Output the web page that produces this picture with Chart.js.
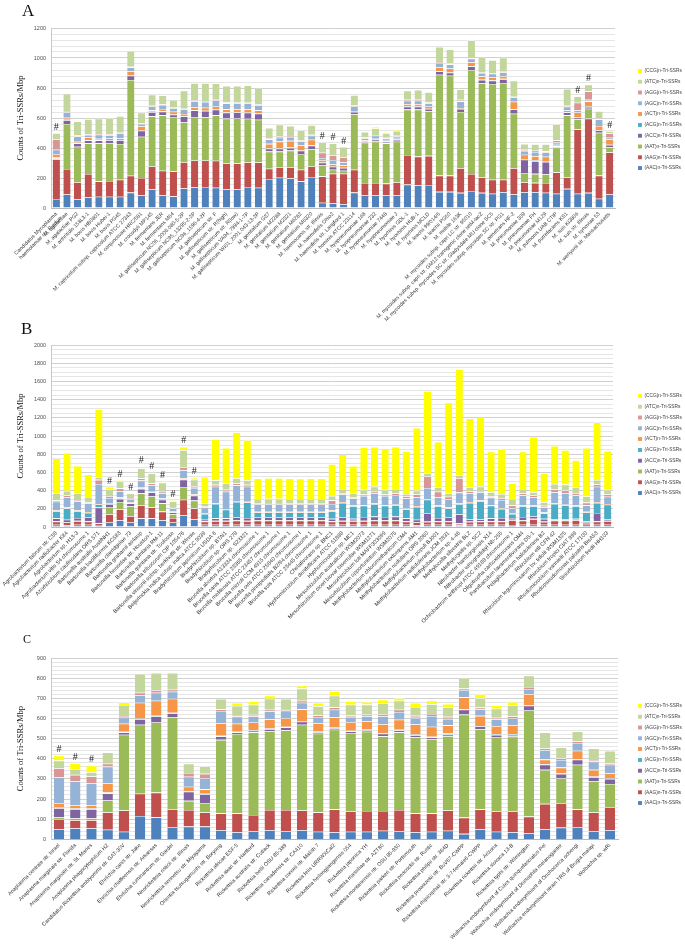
<!DOCTYPE html>
<html lang="en">
<head>
<meta charset="UTF-8" />
<title>Counts of Tri-SSRs/Mbp</title>
<script src="https://cdn.jsdelivr.net/npm/chart.js@4"></script>
<style>
  body { margin: 0; background: #fff; width: 685px; height: 948px; position: relative; overflow: hidden; }
  canvas { position: absolute; left: 0; }
  .tag { position: absolute; font-family: 'Liberation Serif', serif; color: #111; line-height: 1; z-index: 5; }
</style>
</head>
<body>
<canvas id="chartA" width="685" height="335" style="top:0px"></canvas>
<canvas id="chartB" width="685" height="312" style="top:318px"></canvas>
<canvas id="chartC" width="685" height="318" style="top:630px"></canvas>
<div class="tag" style="left:22px;top:2px;font-size:17px">A</div>
<div class="tag" style="left:21px;top:320px;font-size:17px">B</div>
<div class="tag" style="left:23px;top:633px;font-size:12px">C</div>

<script>
// motif order = stacking order, bottom to top
const motifs = ['AAC', 'AAG', 'AAT', 'ACC', 'ACG', 'ACT', 'AGC', 'AGG', 'ATC', 'CCG']
const motifColors = ['#4F81BD', '#C0504D', '#9BBB59', '#8064A2', '#4BACC6', '#F79646', '#95B3D7', '#D99694', '#C3D69B', '#FFFF00']

// ---------- panel A : Mycoplasma ----------
const catA = [
  ['Candidatus Mycoplasma', 'haemolamae str. Purdue'], 'M. agalactiae', 'M. agalactiae PG2', 'M. arthritidis 158L3-1',
  'M. bovis HB0801', 'M. bovis Hubei-1', 'M. bovis PG45', 'M. capricolum subsp. capricolum ATCC 27343',
  'M. conjunctivae HRC/581', 'M. crocodyli MP145', 'M. fermentans JER', 'M. fermentans M64',
  'M. gallisepticum NC06_2006.080-5-2P', 'M. gallisepticum NC95_13295-2-2P', 'M. gallisepticum NC96_1596-4-2P',
  'M. gallisepticum str. F', 'M. gallisepticum str. R(high)', 'M. gallisepticum str. R(low)',
  'M. gallisepticum VA94_7994-1-7P', 'M. gallisepticum WI01_2001.043-13-2P',
  'M. genitalium G37', 'M. genitalium M2288', 'M. genitalium M2321', 'M. genitalium M6282', 'M. genitalium M6320',
  'M. haemocanis str. Illinois', 'M. haemofelis Ohio2', 'M. haemofelis str. Langford 1', 'M. hominis ATCC 23114',
  'M. hyopneumoniae 168', 'M. hyopneumoniae 232', 'M. hyopneumoniae 7448', 'M. hyopneumoniae J',
  'M. hyorhinis GDL-1', 'M. hyorhinis HUB-1', 'M. hyorhinis MCLD', 'M. leachii 99/014/6', 'M. leachii PG50',
  'M. mobile 163K', 'M. mycoides subsp. capri LC str. 95010',
  'M. mycoides subsp. capri str. GM12 transgenic clone tetM-lacZ',
  'M. mycoides subsp. mycoides SC str. Gladysdale MU clone SC5', 'M. mycoides subsp. mycoides SC str. PG1',
  'M. penetrans HF-2', 'M. pneumoniae 309', 'M. pneumoniae FH', 'M. pneumoniae M129', 'M. pulmonis UAB CTIP',
  'M. putrefaciens KS1', 'M. suis KI3806', 'M. suis str. Illinois', 'M. synoviae 53', 'M. wenyonii str. Massachusetts'
]
const A_AAC = [60, 90, 59, 70, 75, 75, 75, 103, 85, 125, 85, 78, 130, 137, 140, 135, 125, 125, 140, 135, 194, 202, 198, 178, 207, 35, 30, 26, 103, 86, 86, 86, 86, 156, 150, 154, 108, 108, 101, 114, 101, 95, 106, 90, 106, 106, 102, 95, 128, 95, 101, 62, 90]
const A_AAG = [265, 170, 113, 157, 103, 105, 114, 112, 115, 152, 164, 166, 176, 180, 177, 180, 174, 172, 165, 169, 68, 71, 75, 77, 70, 176, 199, 203, 152, 81, 81, 77, 86, 198, 193, 194, 108, 108, 165, 113, 104, 94, 83, 176, 66, 62, 65, 143, 77, 429, 495, 154, 280]
const A_AAT = [5, 300, 237, 204, 253, 250, 238, 639, 275, 334, 369, 363, 264, 290, 288, 303, 297, 300, 290, 285, 114, 103, 110, 105, 115, 73, 26, 20, 370, 269, 276, 268, 270, 302, 313, 297, 673, 666, 374, 693, 627, 638, 645, 363, 62, 60, 58, 165, 413, 68, 66, 286, 35]
const A_ACC = [5, 26, 22, 20, 20, 22, 25, 28, 40, 28, 25, 15, 40, 44, 42, 37, 40, 40, 40, 40, 20, 20, 18, 22, 24, 18, 20, 18, 15, 10, 12, 10, 12, 20, 20, 15, 22, 20, 20, 24, 22, 22, 25, 28, 88, 85, 82, 8, 20, 10, 12, 15, 15]
const A_ACG = [2, 3, 2, 2, 2, 2, 2, 2, 2, 2, 2, 2, 2, 2, 2, 2, 2, 2, 2, 2, 2, 2, 2, 2, 2, 2, 2, 2, 2, 2, 2, 2, 2, 2, 2, 2, 2, 2, 2, 2, 2, 2, 2, 2, 5, 5, 5, 2, 2, 2, 2, 2, 2]
const A_ACT = [22, 12, 8, 20, 8, 10, 10, 28, 28, 10, 15, 18, 15, 20, 20, 20, 20, 20, 20, 20, 30, 45, 45, 35, 37, 15, 15, 15, 5, 5, 5, 5, 5, 15, 15, 15, 26, 26, 5, 26, 22, 22, 18, 50, 28, 28, 30, 8, 10, 33, 35, 28, 37]
const A_AGC = [30, 38, 37, 15, 28, 22, 33, 26, 15, 26, 28, 24, 30, 40, 38, 40, 40, 40, 40, 35, 30, 26, 26, 26, 28, 15, 28, 20, 30, 12, 20, 15, 15, 22, 22, 20, 28, 28, 44, 24, 22, 22, 25, 28, 26, 28, 28, 15, 26, 15, 10, 44, 10]
const A_AGG = [70, 8, 5, 5, 5, 5, 5, 4, 5, 4, 4, 4, 5, 5, 5, 5, 5, 5, 5, 5, 8, 8, 6, 6, 6, 35, 33, 35, 8, 5, 5, 5, 5, 6, 6, 6, 6, 5, 10, 5, 5, 5, 5, 5, 8, 8, 8, 15, 5, 50, 57, 8, 28]
const A_ATC = [40, 115, 95, 100, 102, 106, 111, 105, 70, 75, 58, 51, 121, 114, 120, 109, 111, 110, 116, 109, 68, 79, 68, 68, 63, 68, 78, 68, 68, 38, 43, 31, 33, 62, 67, 69, 101, 95, 69, 117, 103, 86, 94, 107, 38, 43, 47, 108, 113, 42, 45, 46, 16]
const A_CCG = [0, 0, 0, 3, 0, 3, 0, 0, 0, 0, 0, 0, 0, 0, 0, 0, 0, 0, 0, 0, 0, 0, 0, 0, 0, 0, 0, 0, 0, 0, 10, 5, 5, 0, 0, 0, 0, 0, 0, 0, 0, 0, 0, 0, 0, 0, 0, 0, 0, 0, 0, 0, 0]
const hashA = [0, 25, 26, 27, 49, 50, 52]

// ---------- panel B : Rhizobiales ----------
const catB = [
  'Agrobacterium fabrum str. C58', 'Agrobacterium radiobacter K84', 'Agrobacterium sp. H13-3',
  'Agrobacterium vitis S4 chromosome 1', 'Azorhizobium caulinodans ORS 571', 'Bartonella australis Aust/NH1',
  'Bartonella bacilliformis KC583', 'Bartonella clarridgeiae 73', 'Bartonella grahamii as4aup',
  'Bartonella henselae str. Houston-1', 'Bartonella quintana RM-11', 'Bartonella quintana str. Toulouse',
  'Bartonella tribocorum CIP 105476', 'Bartonella vinsonii subsp. berkhoffii str. Winnie',
  'Beijerinckia indica subsp. indica ATCC 9039', 'Bradyrhizobium japonicum USDA 6', 'Bradyrhizobium sp. BTAi1',
  'Bradyrhizobium sp. ORS 278', 'Bradyrhizobium sp. S23321', 'Brucella abortus A13334 chromosome 1',
  'Brucella canis ATCC 23365 chromosome 1', 'Brucella melitensis ATCC 23457 chromosome I',
  'Brucella microti CCM 4915 chromosome 1', 'Brucella ovis ATCC 25840 chromosome I',
  'Brucella pinnipedialis B2/94 chromosome 1', 'Brucella suis ATCC 23445 chromosome 1', 'Chelativorans sp. BNC1',
  'Hyphomicrobium denitrificans ATCC 51888', 'Hyphomicrobium sp. MC1', 'Mesorhizobium australicum WSM2073',
  'Mesorhizobium ciceri biovar biserrulae WSM1271', 'Mesorhizobium loti MAFF303099',
  'Mesorhizobium opportunistum WSM2075', 'Methylobacterium chloromethanicum CM4', 'Methylobacterium extorquens AM1',
  'Methylobacterium nodulans ORS 2060', 'Methylobacterium populi BJ001', 'Methylobacterium radiotolerans JCM 2831',
  'Methylobacterium sp. 4-46', 'Methylocella silvestris BL2', 'Methylocystis sp. SC2', 'Nitrobacter hamburgensis X14',
  'Nitrobacter winogradskyi Nb-255', 'Ochrobactrum anthropi ATCC 49188 chromosome 1',
  'Oligotropha carboxidovorans OM4', 'Parvibaculum lavamentivorans DS-1', 'Pelagibacterium halotolerans B2',
  'Rhizobium etli CFN 42', 'Rhizobium leguminosarum bv. trifolii WSM1325', 'Rhizobium tropici CIAT 899',
  'Rhodomicrobium vannielii ATCC 17100', 'Rhodopseudomonas palustris BisA53', 'Sinorhizobium fredii HH103'
]
const B_AAC = [25, 20, 25, 25, 15, 50, 75, 50, 95, 95, 75, 50, 130, 85, 25, 25, 25, 25, 25, 25, 25, 25, 25, 25, 25, 25, 25, 25, 25, 25, 25, 25, 25, 25, 20, 25, 25, 25, 20, 25, 25, 25, 25, 15, 25, 25, 25, 25, 25, 25, 25, 25, 25]
const B_AAG = [35, 30, 40, 35, 25, 90, 120, 70, 145, 120, 95, 50, 170, 120, 35, 40, 40, 45, 40, 45, 45, 45, 45, 45, 45, 45, 35, 40, 40, 40, 45, 45, 45, 35, 30, 30, 35, 35, 15, 30, 35, 35, 35, 60, 45, 60, 30, 45, 45, 50, 20, 35, 40]
const B_AAT = [5, 5, 5, 5, 3, 80, 80, 110, 130, 120, 90, 40, 140, 85, 5, 5, 5, 5, 5, 5, 5, 5, 5, 5, 5, 5, 5, 5, 5, 5, 5, 5, 5, 5, 5, 5, 5, 5, 5, 5, 5, 5, 5, 5, 5, 5, 5, 5, 5, 5, 5, 5, 5]
const B_ACC = [30, 25, 30, 40, 170, 30, 35, 30, 50, 45, 40, 20, 80, 55, 15, 25, 25, 30, 30, 30, 30, 30, 30, 30, 30, 30, 25, 35, 20, 40, 40, 35, 40, 30, 25, 91, 35, 40, 100, 25, 20, 30, 35, 20, 35, 30, 30, 10, 10, 10, 10, 90, 15]
const B_ACG = [80, 125, 75, 50, 35, 5, 5, 5, 5, 5, 5, 5, 5, 5, 65, 160, 95, 170, 170, 55, 55, 55, 55, 55, 55, 55, 85, 160, 140, 125, 135, 125, 125, 100, 140, 150, 130, 100, 110, 180, 200, 140, 100, 45, 120, 110, 60, 170, 155, 140, 100, 110, 160]
const B_ACT = [8, 8, 8, 8, 5, 10, 10, 5, 10, 10, 8, 5, 10, 10, 8, 8, 8, 8, 8, 8, 8, 8, 8, 8, 8, 8, 8, 8, 8, 8, 8, 8, 8, 8, 8, 8, 8, 8, 8, 8, 8, 8, 8, 8, 8, 8, 8, 8, 8, 8, 8, 8, 8]
const B_AGC = [95, 115, 100, 95, 220, 55, 70, 35, 75, 65, 55, 35, 90, 70, 60, 180, 190, 175, 165, 80, 82, 82, 80, 80, 80, 80, 70, 85, 75, 100, 115, 100, 105, 110, 100, 120, 90, 90, 120, 100, 90, 80, 90, 55, 110, 90, 60, 120, 125, 110, 70, 170, 80]
const B_AGG = [15, 20, 15, 12, 45, 20, 30, 15, 25, 20, 20, 15, 30, 20, 15, 20, 20, 20, 20, 15, 15, 15, 15, 15, 15, 15, 40, 15, 15, 15, 15, 15, 15, 25, 30, 127, 60, 30, 160, 20, 15, 15, 20, 30, 20, 20, 15, 30, 30, 25, 30, 25, 25]
const B_ATC = [75, 50, 72, 60, 30, 70, 80, 50, 110, 110, 100, 60, 190, 70, 34, 50, 70, 55, 51, 45, 45, 45, 45, 45, 45, 45, 50, 45, 43, 50, 56, 50, 50, 26, 42, 36, 49, 38, 30, 44, 46, 44, 46, 71, 50, 34, 40, 60, 63, 64, 67, 49, 50]
const B_CCG = [385, 417, 302, 247, 745, 30, 9, 5, 20, 9, 8, 14, 36, 20, 289, 449, 392, 507, 441, 225, 228, 228, 227, 222, 227, 227, 347, 379, 301, 466, 437, 455, 463, 470, 690, 902, 499, 995, 1165, 756, 760, 445, 488, 169, 409, 609, 315, 419, 379, 297, 535, 633, 429]
const hashB = [5, 6, 7, 8, 9, 10, 11, 12, 13]

// ---------- panel C : Rickettsiales ----------
const catC = [
  'Anaplasma centrale str. Israel', 'Anaplasma marginale str. Florida', 'Anaplasma marginale str. St. Maries',
  'Anaplasma phagocytophilum HZ', 'Candidatus Rickettsia amblyommii str. GAT-30V', 'Ehrlichia canis str. Jake',
  'Ehrlichia chaffeensis str. Arkansas', 'Ehrlichia ruminantium str. Gardel', 'Neorickettsia risticii str. Illinois',
  'Neorickettsia sennetsu str. Miyayama', 'Orientia tsutsugamushi str. Boryong', 'Rickettsia africae ESF-5',
  'Rickettsia akari str. Hartford', 'Rickettsia australis str. Cutlack', 'Rickettsia bellii OSU 85-389',
  'Rickettsia canadensis str. CA410', 'Rickettsia conorii str. Malish 7', 'Rickettsia felis URRWXCal2',
  'Rickettsia heilongjiangensis 054', 'Rickettsia japonica YH', 'Rickettsia massiliae str. AZT80',
  'Rickettsia montanensis str. OSU 85-930', 'Rickettsia parkeri str. Portsmouth', 'Rickettsia peacockii str. Rustic',
  'Rickettsia philipii str. 364D', 'Rickettsia prowazekii str. BuV67-CWPP',
  'Rickettsia rhipicephali str. 3-7-female6-CWPP', 'Rickettsia rickettsii str. Arizona', 'Rickettsia slovaca 13-B',
  'Rickettsia typhi str. Wilmington', 'Wolbachia endosymbiont of Culex quinquefasciatus Pel',
  'Wolbachia endosymbiont of Drosophila melanogaster', 'Wolbachia endosymbiont of Onchocerca ochengi',
  'Wolbachia endosymbiont strain TRS of Brugia malayi', 'Wolbachia sp. wRi'
]
const C_AAC = [50, 55, 55, 48, 38, 116, 109, 60, 63, 63, 46, 35, 41, 46, 41, 46, 38, 35, 38, 38, 43, 41, 35, 38, 43, 27, 50, 38, 35, 30, 50, 58, 60, 41, 46]
const C_AAG = [50, 40, 40, 85, 105, 110, 123, 90, 83, 70, 83, 94, 80, 100, 105, 97, 96, 114, 100, 103, 98, 105, 94, 91, 100, 81, 99, 100, 103, 83, 126, 121, 89, 92, 113]
const C_AAT = [10, 10, 10, 60, 376, 343, 348, 455, 45, 45, 365, 394, 410, 391, 395, 426, 390, 395, 390, 393, 370, 385, 378, 367, 369, 511, 398, 370, 372, 527, 169, 124, 221, 154, 116]
const C_ACC = [45, 45, 45, 35, 12, 28, 30, 20, 45, 45, 17, 8, 8, 10, 15, 15, 8, 8, 8, 8, 13, 10, 10, 10, 8, 25, 13, 10, 8, 23, 25, 22, 25, 22, 25]
const C_ACG = [3, 3, 3, 4, 3, 3, 3, 3, 3, 3, 3, 3, 3, 3, 3, 3, 3, 3, 3, 3, 3, 3, 3, 3, 5, 3, 3, 3, 3, 3, 3, 3, 3, 3, 3]
const C_ACT = [20, 17, 17, 47, 40, 78, 75, 70, 22, 22, 63, 40, 38, 45, 42, 58, 42, 50, 42, 41, 45, 50, 50, 50, 41, 58, 50, 41, 46, 55, 23, 28, 42, 33, 25]
const C_AGC = [130, 117, 109, 82, 30, 38, 40, 35, 50, 55, 60, 35, 30, 40, 38, 33, 30, 38, 27, 25, 38, 38, 33, 53, 32, 35, 33, 33, 33, 25, 47, 38, 38, 41, 42]
const C_AGG = [45, 33, 33, 14, 8, 12, 13, 10, 18, 22, 8, 8, 8, 8, 8, 10, 8, 12, 8, 8, 10, 11, 10, 10, 10, 8, 8, 8, 10, 10, 8, 8, 8, 8, 8]
const C_ATC = [38, 28, 21, 56, 55, 93, 85, 83, 46, 37, 52, 45, 50, 55, 50, 60, 45, 58, 52, 50, 56, 45, 44, 49, 47, 53, 47, 45, 55, 57, 80, 54, 50, 57, 61]
const C_CCG = [24, 30, 33, 0, 13, 0, 0, 0, 0, 0, 0, 15, 17, 15, 0, 15, 17, 22, 17, 13, 17, 13, 20, 17, 17, 0, 20, 17, 17, 0, 0, 0, 0, 0, 0]
const hashC = [0, 1, 2]

// draws the "#" flags above marked bars, using the chart scales
const hashMarks = {
  id: 'hashMarks',
  afterDatasetsDraw(chart, args, opts) {
    const { ctx, scales: { x, y } } = chart
    ctx.save()
    ctx.font = '10px "Liberation Serif"'
    ctx.fillStyle = '#222'
    ctx.textAlign = 'center'
    ctx.textBaseline = 'bottom'
    opts.marks.forEach(i => {
      let total = 0
      chart.data.datasets.forEach(ds => { total += ds.data[i] })
      ctx.fillText('#', x.getPixelForValue(i), y.getPixelForValue(total) - 1)
    })
    ctx.restore()
  }
}

// moves the legend block to a fixed spot at the right
const legendPlace = {
  id: 'legendPlace',
  afterLayout(chart, args, opts) {
    const lg = chart.legend
    lg.left = opts.x
    lg.right = opts.x + lg.width
    lg.top = opts.y
    lg.bottom = opts.y + 200
  }
}

function makeChart(id, labels, series, cfg) {
  const datasets = motifs.map((m, k) => ({
    label: '(' + m + ')n-Tri-SSRs',
    data: series[k],
    backgroundColor: motifColors[k],
    borderColor: 'rgba(255,255,255,0.85)',
    borderWidth: c => (c.raw > 0 ? { top: 0.6, right: 0, bottom: 0, left: 0 } : 0),
    borderSkipped: false,
    categoryPercentage: 1,
    barPercentage: cfg.barPct
  }))
  return new Chart(document.getElementById(id), {
    type: 'bar',
    data: { labels, datasets },
    plugins: [hashMarks, legendPlace],
    options: {
      responsive: false,
      animation: false,
      devicePixelRatio: 1,
      layout: { padding: { top: cfg.top, left: 10, right: cfg.padRight, bottom: 0 } },
      plugins: {
        tooltip: { enabled: false },
        hashMarks: { marks: cfg.marks },
        legendPlace: { x: 632, y: cfg.legendY },
        legend: {
          position: 'right',
          reverse: true,
          align: 'start',
          maxWidth: 50,
          labels: {
            boxWidth: 4,
            boxHeight: 4,
            padding: 6,
            color: '#404040',
            font: { family: 'Liberation Sans', size: 4.8 }
          }
        }
      },
      scales: {
        x: {
          stacked: true,
          afterFit: s => { s.height = cfg.xHeight },
          grid: { display: false, drawTicks: false },
          border: { display: true, color: '#b8b8b8' },
          ticks: {
            autoSkip: false,
            minRotation: 45,
            maxRotation: 45,
            padding: 3,
            color: '#333',
            font: { family: 'Liberation Sans', size: cfg.xFont }
          }
        },
        y: {
          stacked: true,
          min: 0,
          max: cfg.yMax,
          afterFit: s => { s.width = 41 },
          border: { display: true, color: '#c8c8c8' },
          grid: {
            drawTicks: false,
            lineWidth: 0.8,
            color: c => (c.tick.value % cfg.major === 0 ? '#c4c4c4' : '#e0e0e0')
          },
          ticks: {
            stepSize: cfg.step,
            autoSkip: false,
            padding: 5,
            color: '#505050',
            font: { family: 'Liberation Sans', size: 5.5 },
            callback: v => (v % cfg.major === 0 ? v : '')
          },
          title: {
            display: true,
            text: 'Counts of Tri-SSRs/Mbp',
            color: '#111',
            font: { family: 'Liberation Serif', size: 8.5 },
            padding: { top: 6, bottom: 0 }
          }
        }
      }
    }
  })
}

makeChart('chartA', catA,
  [A_AAC, A_AAG, A_AAT, A_ACC, A_ACG, A_ACT, A_AGC, A_AGG, A_ATC, A_CCG],
  { yMax: 1200, step: 40, major: 200, top: 28, xHeight: 127, padRight: 20, legendY: 62.5, barPct: 0.68, xFont: 5.3, marks: hashA })

makeChart('chartB', catB,
  [B_AAC, B_AAG, B_AAT, B_ACC, B_ACG, B_ACT, B_AGC, B_AGG, B_ATC, B_CCG],
  { yMax: 2000, step: 50, major: 200, top: 27, xHeight: 103, padRight: 22, legendY: 69.5, barPct: 0.68, xFont: 5.5, marks: hashB })

makeChart('chartC', catC,
  [C_AAC, C_AAG, C_AAT, C_ACC, C_ACG, C_ACT, C_AGC, C_AGG, C_ATC, C_CCG],
  { yMax: 900, step: 20, major: 100, top: 28, xHeight: 108.7, padRight: 17, legendY: 67.5, barPct: 0.64, xFont: 5.4, marks: hashC })
</script>
</body>
</html>
